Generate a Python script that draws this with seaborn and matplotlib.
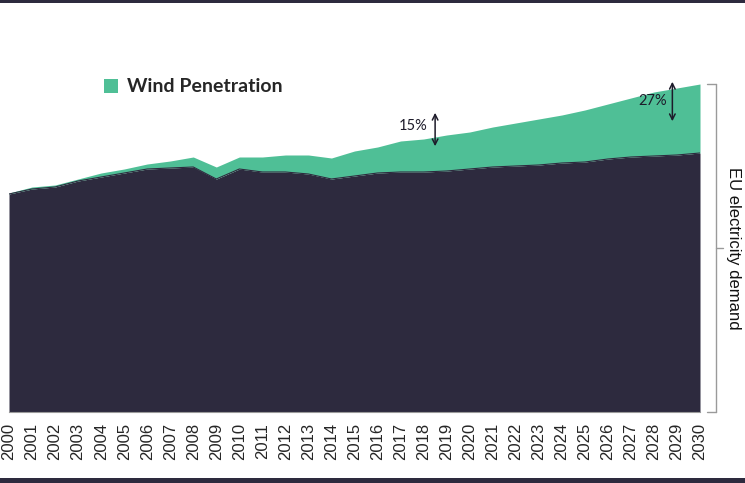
import matplotlib.pyplot as plt
import matplotlib.transforms as mtransforms
from matplotlib.patches import Patch, Rectangle
import seaborn as sns
import pandas as pd

# values (TWh, approximate)
years = list(range(2000, 2031))
demand = [2190, 2250, 2270, 2330, 2390, 2430, 2480, 2510, 2550, 2450,
          2550, 2550, 2570, 2570, 2540, 2610, 2650, 2710, 2730, 2770,
          2800, 2850, 2890, 2930, 2970, 3020, 3080, 3140, 3200, 3240, 3280]
wind = [10, 20, 20, 20, 40, 40, 50, 70, 100, 120,
        120, 150, 170, 190, 210, 250, 260, 310, 330, 360,
        370, 400, 430, 460, 480, 520, 550, 590, 640, 670, 690]
share_labels = ['15%', '27%']

df = pd.DataFrame({'year': years, 'demand': demand, 'wind': wind})
df['other'] = df['demand'] - df['wind']

dark = '#2d2a3e'
green = '#4fbf96'
grey = '#9a9a9a'

sns.set_style('white')
plt.rcParams['font.family'] = ['Liberation Sans', 'DejaVu Sans']

fig = plt.figure(figsize=(7.45, 4.83), dpi=100)
ax = fig.add_axes([9 / 745, 71 / 483, 691 / 745, 352 / 483])

ax.fill_between(df['year'], 0, df['other'], color=dark, linewidth=0)
ax.fill_between(df['year'], df['other'], df['demand'], color=green, linewidth=0)
sns.lineplot(data=df, x='year', y='other', ax=ax, color=dark, linewidth=0.8)

ax.set_xlim(2000, 2030)
ax.set_ylim(0, 3520)
ax.set_xticks(years)
ax.set_xticklabels([str(y) for y in years], rotation=90, fontsize=12)
ax.set_yticks([])
ax.set_xlabel('')
ax.set_ylabel('')
ax.tick_params(axis='x', direction='out', length=5, width=1, color=grey, pad=3)
sns.despine(ax=ax, left=True, right=True, top=True)
ax.spines['bottom'].set_color(grey)

# share arrows
ax.annotate('', xy=(2018.5, 2630), xytext=(2018.5, 3020),
            arrowprops=dict(arrowstyle='<->', color='#1d1b2a', lw=1.1))
ax.text(2017.55, 2860, share_labels[0], ha='center', va='center', fontsize=10.5,
        family=['Lato', 'DejaVu Sans'], color='#1d1b2a')
ax.annotate('', xy=(2028.8, 2880), xytext=(2028.8, 3330),
            arrowprops=dict(arrowstyle='<->', color='#1d1b2a', lw=1.1),
            annotation_clip=False)
ax.text(2027.95, 3110, share_labels[1], ha='center', va='center', fontsize=10.5,
        family=['Lato', 'DejaVu Sans'], color='#1d1b2a')

# bracket for total demand
tr = mtransforms.blended_transform_factory(ax.transAxes, ax.transData)
top = df['demand'].iloc[-1]
bx = 1.0232
ax.plot([bx, bx], [0, top], transform=tr, color=grey, lw=1, clip_on=False)
ax.plot([1.0101, bx], [top, top], transform=tr, color=grey, lw=1, clip_on=False)
ax.plot([1.0101, bx], [0, 0], transform=tr, color=grey, lw=1, clip_on=False)
ax.plot([bx, 1.0333], [top / 2, top / 2], transform=tr, color=grey, lw=1, clip_on=False)
ax.text(1.049, top / 2, 'EU electricity demand', transform=tr, rotation=270,
        ha='center', va='center', fontsize=12, color='#111111')

# legend
leg = ax.legend(handles=[Patch(facecolor=green, edgecolor='none', label='Wind Penetration')],
                loc='upper left', bbox_to_anchor=(86 / 745, 1 - 61 / 483),
                bbox_transform=fig.transFigure, frameon=False,
                handlelength=0.75, handleheight=0.75, handletextpad=0.45,
                prop={'family': ['Lato', 'DejaVu Sans'], 'weight': 'bold', 'size': 14})

# page borders
fig.patches.append(Rectangle((0, 1 - 2.5 / 483), 1, 2.5 / 483, transform=fig.transFigure,
                             facecolor=dark, edgecolor='none'))
fig.patches.append(Rectangle((0, 0), 1, 5 / 483, transform=fig.transFigure,
                             facecolor=dark, edgecolor='none'))

fig.savefig('out.png', dpi=100)
